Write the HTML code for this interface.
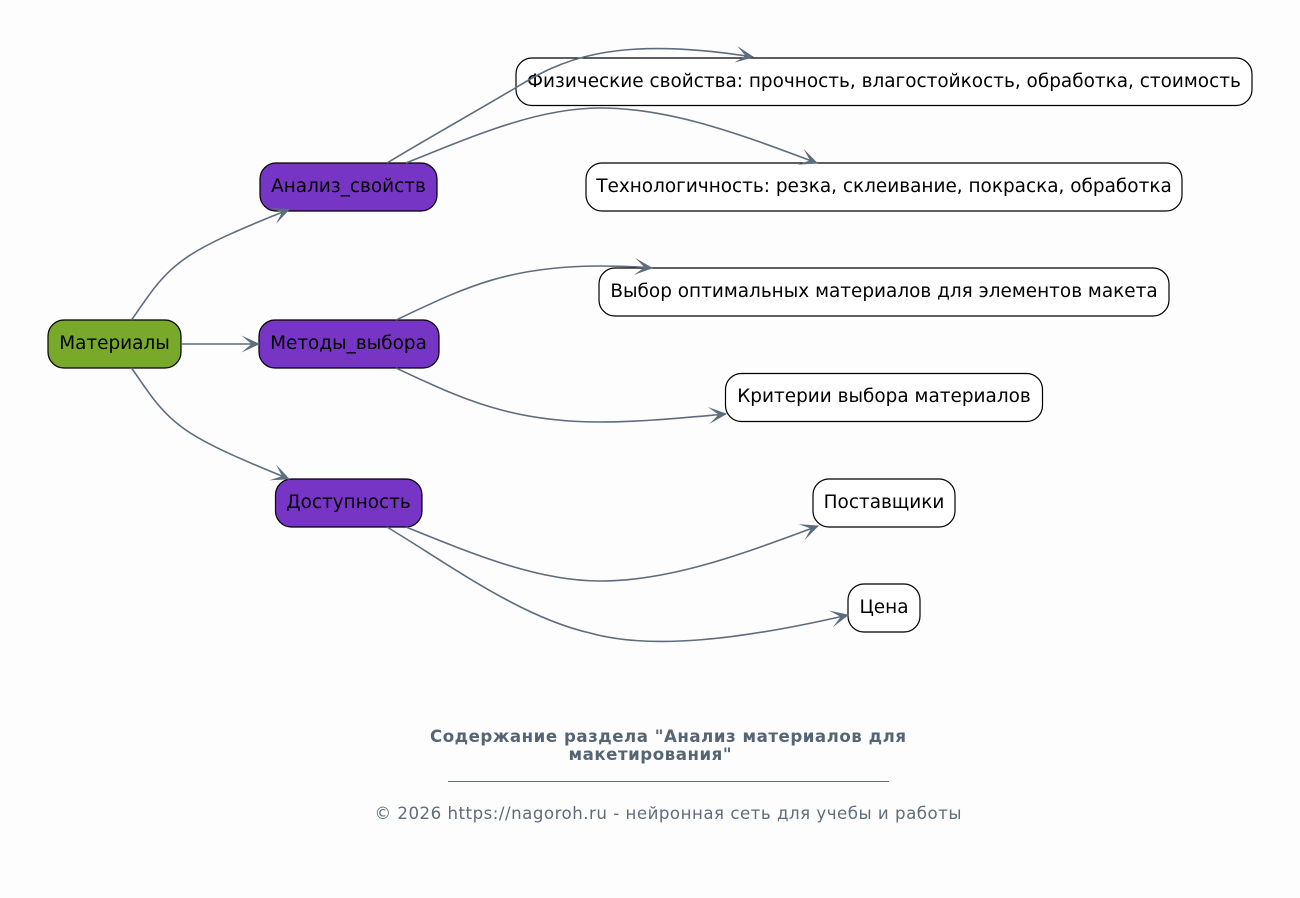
<!DOCTYPE html>
<html lang="ru">
<head>
<meta charset="utf-8">
<title>Материалы</title>
<style>
html,body{margin:0;padding:0;background:#fdfdfd;}
svg{display:block;}
text{font-family:"DejaVu Sans",sans-serif;}
.n{font-size:18.44px;fill:#000;text-anchor:middle;}
.b{stroke:#000;stroke-width:1.2;}
.e{fill:none;stroke:#5d6d7e;stroke-width:1.6;}
</style>
</head>
<body>
<svg width="1300" height="898" viewBox="0 0 1300 898" xmlns="http://www.w3.org/2000/svg">
<defs>
<marker id="a" markerUnits="userSpaceOnUse" markerWidth="24" markerHeight="20" refX="19" refY="10" orient="auto" overflow="visible">
<path d="M20,10 L1.500,1.500 L11.500,10 L1.500,18.500 Z" fill="#5d6d7e"/>
</marker>
</defs>
<rect width="1300" height="898" fill="#fdfdfd"/>

<rect class="b" x="48" y="320" width="133" height="48" rx="16" fill="#78a92a"/>
<rect class="b" x="260" y="163" width="177" height="48" rx="16" fill="#7735c5"/>
<rect class="b" x="259" y="320" width="180" height="48" rx="16" fill="#7735c5"/>
<rect class="b" x="275.500" y="479" width="146.500" height="48" rx="16" fill="#7735c5"/>
<rect class="b" x="516" y="58" width="736" height="47.500" rx="16" fill="#fff"/>
<rect class="b" x="586" y="163" width="596" height="48" rx="16" fill="#fff"/>
<rect class="b" x="599" y="268" width="570" height="48" rx="16" fill="#fff"/>
<rect class="b" x="725.500" y="373.500" width="317" height="48" rx="16" fill="#fff"/>
<rect class="b" x="813" y="479" width="142" height="48" rx="16" fill="#fff"/>
<rect class="b" x="848" y="584" width="72" height="48" rx="16" fill="#fff"/>

<text class="n" x="114.500" y="349">Материалы</text>
<text class="n" x="348.500" y="192">Анализ_свойств</text>
<text class="n" x="348.500" y="349">Методы_выбора</text>
<text class="n" x="348.500" y="508">Доступность</text>
<text class="n" x="884" y="87">Физические свойства: прочность, влагостойкость, обработка, стоимость</text>
<text class="n" x="884" y="192">Технологичность: резка, склеивание, покраска, обработка</text>
<text class="n" x="884" y="297">Выбор оптимальных материалов для элементов макета</text>
<text class="n" x="884" y="402">Критерии выбора материалов</text>
<text class="n" x="884" y="508">Поставщики</text>
<text class="n" x="884" y="613">Цена</text>

<path class="e" marker-end="url(#a)" d="M131.500,320 C146,300 158,278 183,260 C206,243 250,225 289,209.500"/>
<path class="e" marker-end="url(#a)" d="M182,344 L259,344"/>
<path class="e" marker-end="url(#a)" d="M131.500,368 C146,388 158,410 183,428 C206,445 250,463 289,479"/>
<path class="e" marker-end="url(#a)" d="M387,163 C430,137 475,112 517,87 C558,62 610,34 753,57"/>
<path class="e" marker-end="url(#a)" d="M406,163 C480,133 540,108 600,108 C670,108 740,134 817,163"/>
<path class="e" marker-end="url(#a)" d="M396,320 C460,290 505,266 600,266 C620,266 635,266.500 652,268"/>
<path class="e" marker-end="url(#a)" d="M396,368 C460,398 510,422 600,422 C640,422 680,418 726,414"/>
<path class="e" marker-end="url(#a)" d="M406,527 C480,557 540,581 600,581 C670,581 740,555 818,526"/>
<path class="e" marker-end="url(#a)" d="M387,527 C450,565 520,617 590,633 C650,650 740,640 848,615"/>

<text x="668" y="742" font-size="16.620" font-weight="700" fill="#566573" text-anchor="middle" textLength="476">Содержание раздела "Анализ материалов для</text>
<text x="650" y="760" font-size="16.620" font-weight="700" fill="#566573" text-anchor="middle" textLength="163">макетирования"</text>
<rect x="448" y="781" width="441" height="1" fill="#5d6d7e"/>
<text x="668" y="819" font-size="16.620" fill="#5d6d7e" text-anchor="middle" textLength="587">© 2026 https://nagoroh.ru - нейронная сеть для учебы и работы</text>
</svg>
</body>
</html>
